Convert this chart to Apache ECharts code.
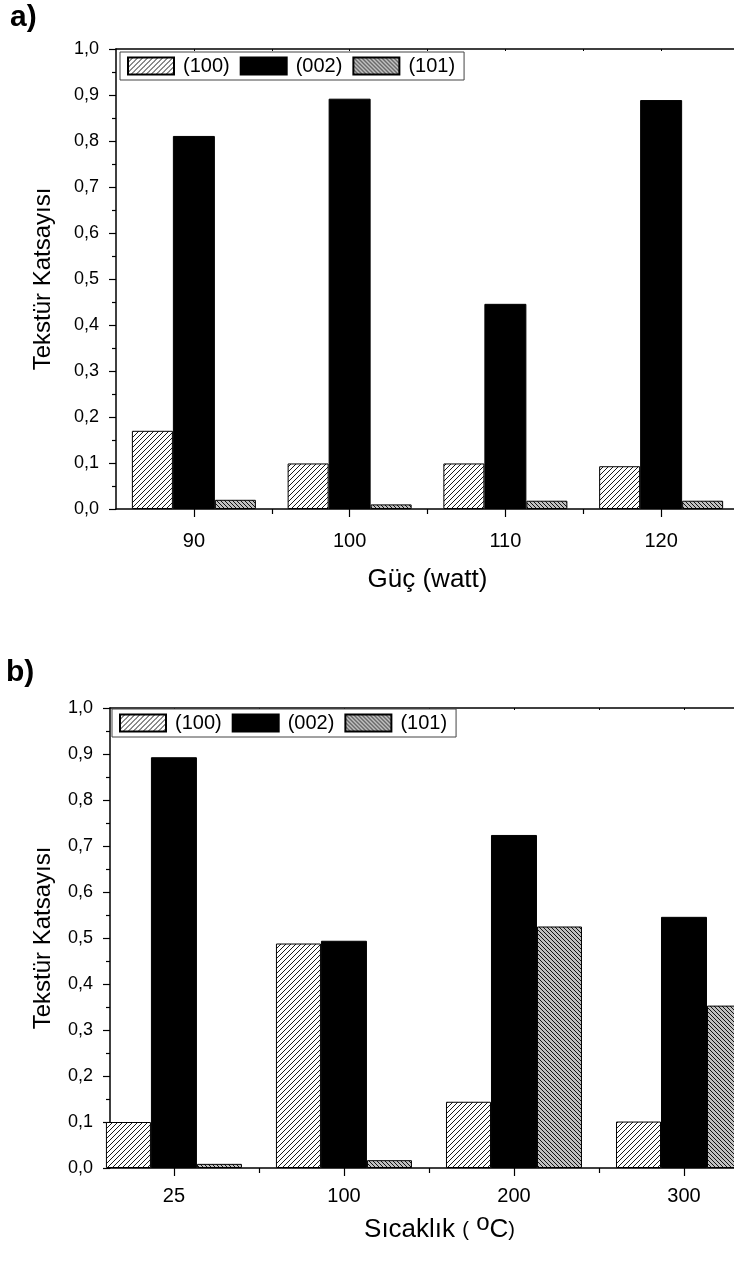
<!DOCTYPE html>
<html>
<head>
    <meta charset="UTF-8">
    <title>tekstur</title>
    <script src="https://cdn.jsdelivr.net/npm/echarts@6/dist/echarts.min.js"></script>
    <style>
        *{margin:0;padding:0}
        html,body{width:100%;height:100%;overflow:hidden;background:#fff}
        #main{width:734px;height:1261px}
    </style>
</head>
<body>
<div id="main"></div>
<script type="text/javascript">
    // a) Güç (watt)
    var catsA = ['90', '100', '110', '120'];
    var a100 = [0.170, 0.099, 0.099, 0.093];
    var a002 = [0.811, 0.892, 0.446, 0.889];
    var a101 = [0.020, 0.010, 0.018, 0.018];
    // b) Sıcaklık
    var catsB = ['25', '100', '200', '300'];
    var b100 = [0.100, 0.488, 0.144, 0.101];
    var b002 = [0.893, 0.494, 0.724, 0.546];
    var b101 = [0.009, 0.017, 0.525, 0.353];
    var names = ['(100)', '(002)', '(101)'];

    var FONT = '"Liberation Sans", Arial, sans-serif';

    // tarama deseni
    function hatch(size, dir, bg) {
        var c = document.createElement('canvas');
        c.width = c.height = size;
        var g = c.getContext('2d');
        g.fillStyle = bg;
        g.fillRect(0, 0, size, size);
        g.strokeStyle = '#000';
        g.lineWidth = 0.9;
        g.beginPath();
        for (var k = -size; k <= size; k += size) {
            if (dir > 0) { g.moveTo(k, size); g.lineTo(k + size, 0); }
            else { g.moveTo(k, 0); g.lineTo(k + size, size); }
        }
        g.stroke();
        return {image: c, repeat: 'repeat'};
    }
    var fills = [hatch(5, 1, '#ffffff'), '#000000', hatch(4, -1, '#c0c0c0')];

    function pairs(arr) {
        return arr.map(function (v, i) { return [i, v]; });
    }

    function xAxes(gi, min, max, cats, margin, name, nameGap) {
        var half = [];
        for (var v = 0.5; v < max; v += 1) half.push(v);
        var all = [];
        for (var w = 0; w <= max; w += 0.5) all.push(w);
        return [
            {
                type: 'value', gridIndex: gi, min: min, max: max, position: 'bottom',
                axisLine: {onZero: false, lineStyle: {color: '#000', width: 1.5}},
                axisTick: {customValues: [0, 1, 2, 3], length: 8, lineStyle: {color: '#000', width: 1.2}},
                axisLabel: {customValues: [0, 1, 2, 3], margin: margin, color: '#000', fontSize: 20, fontFamily: FONT,
                    formatter: function (val) { return cats[Math.round(val)]; }},
                splitLine: {show: false},
                name: name, nameLocation: 'middle', nameGap: nameGap,
                nameTextStyle: {color: '#000', fontSize: 26, fontFamily: FONT,
                    rich: {t: {fontSize: 26, fontFamily: FONT, color: '#000'},
                        p: {fontSize: 20, fontFamily: FONT, color: '#000'},
                        s: {fontSize: 24, fontFamily: FONT, color: '#000', padding: [0, 0, 14, 0]}}}
            },
            {
                type: 'value', gridIndex: gi, min: min, max: max, position: 'bottom',
                axisLine: {show: false, onZero: false},
                axisTick: {customValues: half, length: 5, lineStyle: {color: '#000', width: 1.2}},
                axisLabel: {show: false},
                splitLine: {show: false}
            },
            {
                type: 'value', gridIndex: gi, min: min, max: max, position: 'top',
                axisLine: {onZero: false, lineStyle: {color: '#000', width: 1.5}},
                axisTick: {customValues: all, inside: true, length: 2, lineStyle: {color: '#000'}},
                axisLabel: {show: false},
                splitLine: {show: false}
            }
        ];
    }

    function yAxis(gi, nameGap) {
        return {
            type: 'value', gridIndex: gi, min: 0, max: 1, interval: 0.1,
            axisLine: {show: true, onZero: false, lineStyle: {color: '#000', width: 1.5}},
            axisTick: {show: true, length: 7, lineStyle: {color: '#000', width: 1.2}},
            minorTick: {show: true, splitNumber: 2, length: 4, lineStyle: {color: '#000', width: 1.2}},
            axisLabel: {margin: 17, color: '#000', fontSize: 18, fontFamily: FONT,
                formatter: function (v) { return v.toFixed(1).replace('.', ','); }},
            splitLine: {show: false},
            name: 'Tekstür Katsayısı', nameLocation: 'middle', nameGap: nameGap,
            nameTextStyle: {color: '#000', fontSize: 24, fontFamily: FONT}
        };
    }

    function legend(left, top) {
        return {
            left: left, top: top, orient: 'horizontal',
            data: names.map(function (n) { return {name: n, icon: 'rect'}; }),
            itemWidth: 46, itemHeight: 17, itemGap: 10,
            padding: [4, 9, 4, 7],
            borderColor: '#444', borderWidth: 1,
            backgroundColor: '#fff',
            selectedMode: false,
            textStyle: {color: '#000', fontSize: 20, fontFamily: FONT, padding: [0, 0, 0, 4]}
        };
    }

    function bars(data, idx, xi, yi, width) {
        return {
            name: names[idx], type: 'bar',
            xAxisIndex: xi, yAxisIndex: yi,
            barWidth: width, barGap: '0%',
            itemStyle: {color: fills[idx], borderColor: '#000', borderWidth: 1},
            data: pairs(data)
        };
    }

    var myChart = echarts.init(document.getElementById('main'));

    var option = {
        animation: false,
        backgroundColor: '#fff',
        grid: [
            {left: 116, top: 49, width: 623, height: 460, outerBoundsMode: 'none'},
            {left: 110, top: 708, width: 659, height: 460, outerBoundsMode: 'none'}
        ],
        legend: [legend(120, 52), legend(112, 709)],
        xAxis: [].concat(
            xAxes(0, -0.5, 3.5, catsA, 22, 'Güç (watt)', 58),
            xAxes(1, -0.376, 3.5, catsB, 18, '{t|Sıcaklık }{p|(} {s|o}{t|C}{p|)}', 43)
        ),
        yAxis: [yAxis(0, 61), yAxis(1, 55)],
        graphic: [
            {type: 'text', left: 10, top: 3, style: {text: 'a)', fontSize: 30, fontWeight: 'bold', fontFamily: FONT, fill: '#000'}},
            {type: 'text', left: 6, top: 658, style: {text: 'b)', fontSize: 30, fontWeight: 'bold', fontFamily: FONT, fill: '#000'}}
        ],
        series: [
            bars(a100, 0, 0, 0, 41),
            bars(a002, 1, 0, 0, 42),
            bars(a101, 2, 0, 0, 41),
            bars(b100, 0, 3, 1, 45),
            bars(b002, 1, 3, 1, 46),
            bars(b101, 2, 3, 1, 45)
        ]
    };
    myChart.setOption(option);
</script>
</body>
</html>
